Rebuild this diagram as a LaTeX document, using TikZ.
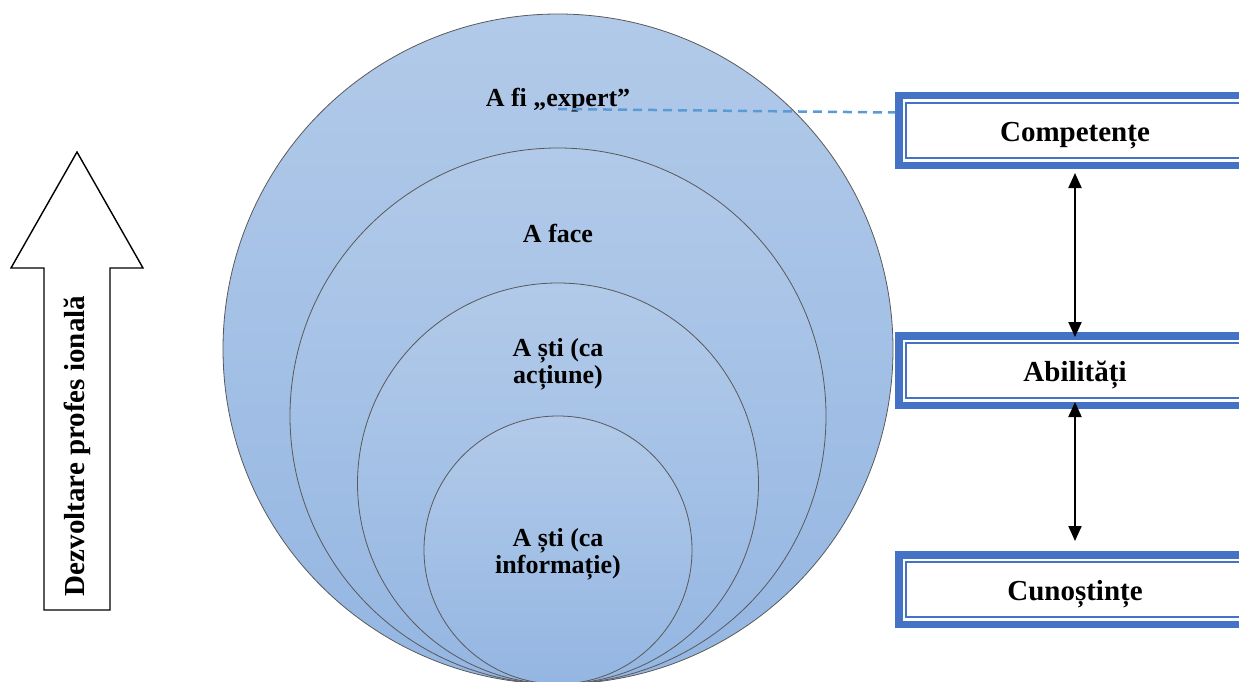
\documentclass[tikz,border=0pt]{standalone}
\usepackage{fontspec}
\setmainfont{Liberation Serif}
\usetikzlibrary{arrows.meta}
\definecolor{ringtop}{RGB}{178,202,233}
\definecolor{ringbot}{RGB}{148,182,226}
\definecolor{boxblue}{RGB}{68,114,196}
\definecolor{dashblue}{RGB}{91,155,213}
\tikzset{
  ring/.style={top color=ringtop, bottom color=ringbot, draw=black!65, line width=0.8pt},
  ringtext/.style={font=\fontsize{26}{27}\selectfont\bfseries, align=center},
  lvlbox/.style={draw=boxblue, fill=white, line width=7.5pt, minimum width=352.5pt,
    minimum height=69.5pt, text height=26pt, text depth=4pt,
    font=\fontsize{29}{33}\selectfont\bfseries}
}
\begin{document}
\begin{tikzpicture}[x=1pt,y=-1pt,>={Triangle[width=13pt,length=15pt]}]
\useasboundingbox (0,0) rectangle (1239,682);
% the four rings, all touching at the bottom
\path[ring] (558,349) circle (335pt);
\path[ring] (558,416) circle (268pt);
\path[ring] (558,483.5) circle (200.5pt);
\path[ring] (558,550) circle (134pt);

\node[ringtext] (expert) at (558,100){A fi „expert”};
\node[ringtext] (face) at (558,233){A face};
\node[ringtext] (actiune) at (558,364){A ști (ca\\acțiune)};
\node[ringtext] (info) at (558,554){A ști (ca\\informație)};

% big arrow on the left
\draw[line width=1.4pt,fill=white] (44,610)--(44,268)--(11,268)--(77,152)--(143,268)--(110,268)--(110,610)--cycle;
\node[rotate=90,font=\fontsize{29}{33}\selectfont\bfseries] (dezv) at (77,446){Dezvoltare profes ională};

% levels on the right
\node[lvlbox] (comp) at (1075,130.5){Competențe};
\node[lvlbox] (abil) at (1075,370.5){Abilități};
\node[lvlbox] (cuno) at (1075,589.5){Cunoștințe};
\foreach \b in {comp,abil,cuno}
{
    \draw[boxblue,line width=2pt] ([shift={(11pt,-11pt)}]\b.north west) rectangle ([shift={(-11pt,11pt)}]\b.south east);
}

\draw[dashblue,line width=2.5pt,dash pattern=on 9pt off 6pt] ([yshift=-9pt]expert.center)--([yshift=18pt]comp.west);
\draw[<->,line width=2pt] ([yshift=-4pt]comp.south)--([yshift=-5pt]abil.north);
\draw[<->,line width=2pt] ([yshift=7pt]abil.south)--([yshift=10pt]cuno.north);
\end{tikzpicture}
\end{document}
